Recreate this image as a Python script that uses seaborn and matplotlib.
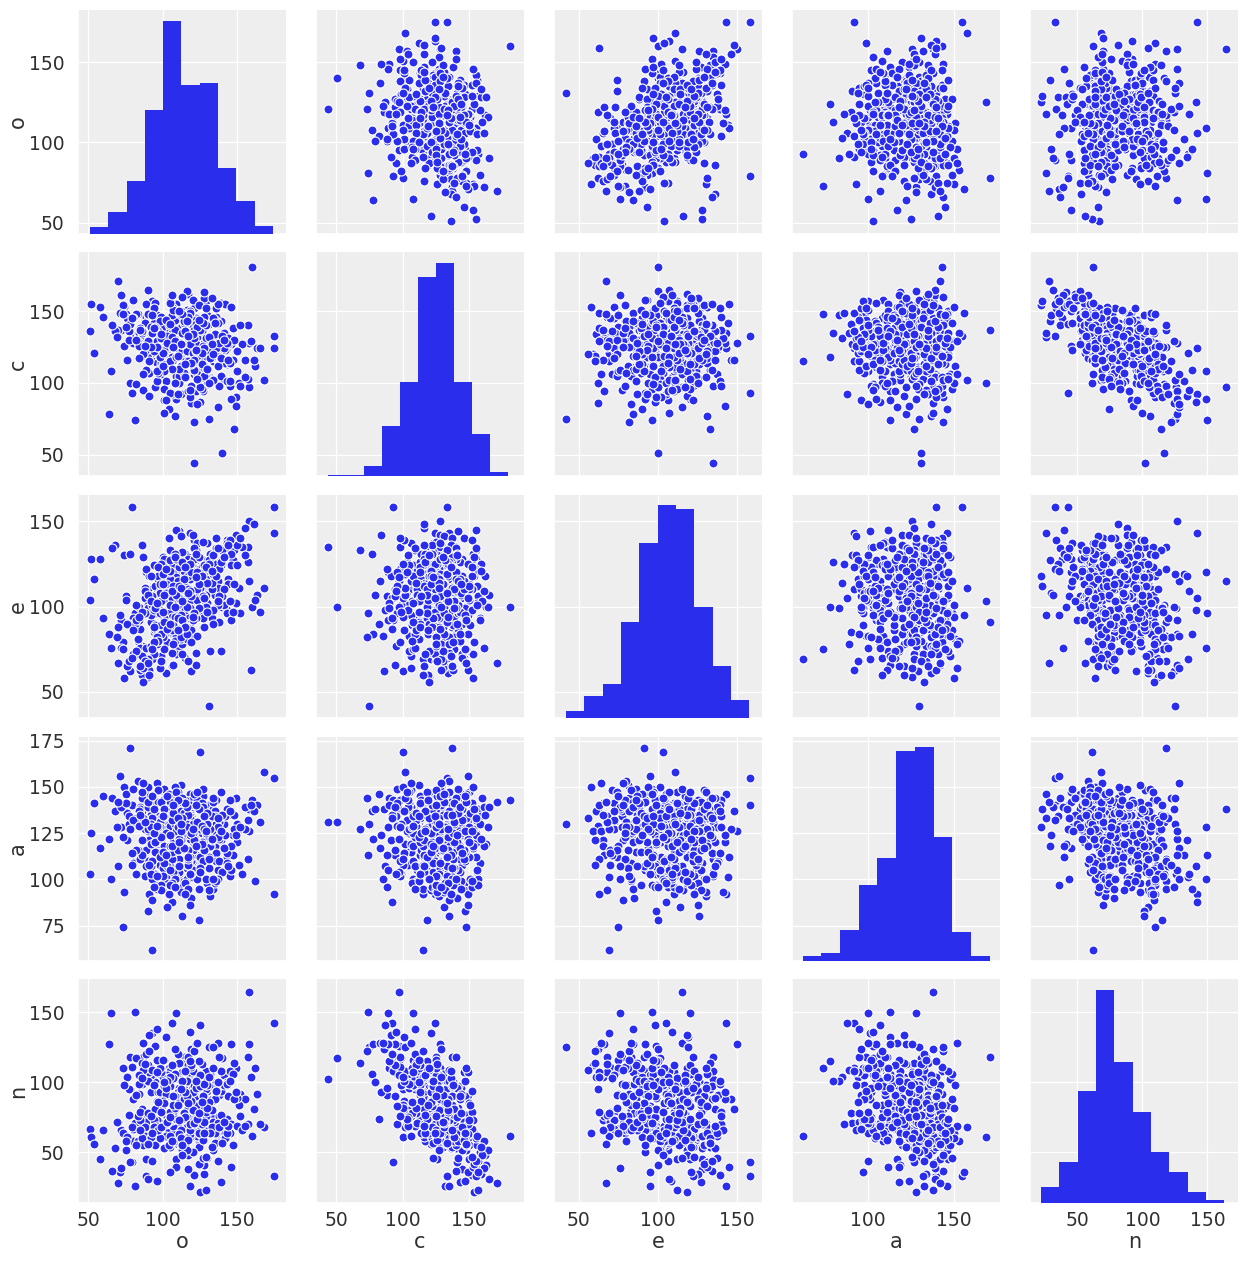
import numpy as np
import pandas as pd
import seaborn as sns
import matplotlib
matplotlib.use("Agg")
import matplotlib.pyplot as plt

# values
o = [175,175,51,52,54,58,60,121,140,160,131,79,78,93,
     125,158,125,129,81,118,139,96,64,65,81,109,158,157,
     112,98,131,104,120,87,143,109,126,72,117,101,136,93,
     108,124,90,115,139,103,111,78,129,96,147,118,106,83,
     133,100,114,122,89,141,107,74,127,110,95,152,119,104,
     116,92,137,105,125,84,112,130,99,146,108,76,121,113,
     102,128,110,88,135,118,94,149,106,123,80,114,132,97,
     120,107,142,91,115,129,101,70,111,134,86,124,103,117,
     95,138,109,126,82,113,144,104,119,98,131,75,108,122,
     127,111,90,136,105,116,155,85,121,100,140,112,93,130,
     106,118,79,128,97,109,133,114,88,145,103,123,110,73,
     135,99,117,107,125,92,113,150,83,120,104,137,96,115,
     110,131,86,122,101,143,108,77,118,94,128,112,139,105,
     123,89,114,134,98,106,119,148,81,126,102,111,71,130,
     91,116,140,103,121,109,87,132,96,113,153,107,124,84,
     118,100,129,110,76,136,105,122,93,115,141,99,127,111,
     104,125,85,112,146,97,120,108,133,90,117,68,106,128,
     119,94,138,102,113,126,82,110,144,100,123,116,88,134,
     107,130,95,121,74,115,101,137,89,111,127,105,151,98,
     122,113,92,129,106,80,118,142,103,124,96,109,135,86,
     100,117,163,128,90,112,105,132,66,120,147,94,114,126,
     83,111,125,99,139,108,116,72,130,103,121,168,92,119,
     137,106,77,113,123,97,145,110,88,127,101,118,134,95,
     104,120,112,86,131,157,99,115,124,69,108,141,93,117,
     129,102,162,78,119,110,135,91,122,107,75,150,114,98,
     116,85,127,105,148,94,121,112,136,80,109,123,100,155,
     73,133,103,118,90,126,165,108,96,143,114,84,120,111,
     98,124,161,106,87,129,113,70,138,101,117,92,132,159,
     110,126,98,117,135,104,122,89,113,142,108,128,94,119,
     115,102,131,120,84,138,111,97,125,106,146,118,90,129,
     121,107,134,93,116,100,127,112,143,87,123,105,137,99,
     114,130,96,124,109,149,86,118,101,133,113,91,126,140,
     103,117,128,95,122,136,110,82,119,127,105,145,92,115,
     130,99,113,125,88,106,139,121,102,116,134,97,111,128,
     94,123,108,137,115,79,126,101,120,144,90,112,131,105,
     118,85,129,110,141,96,124,107,133,100,117,152,93,122]
c = [133,124,136,155,121,153,146,44,51,181,75,93,137,115,
     100,97,154,157,132,135,143,147,78,108,74,89,128,140,
     128,104,141,119,132,95,124,150,113,137,126,88,146,121,
     135,117,108,129,156,123,142,100,131,114,138,127,92,148,
     120,133,111,145,126,102,136,153,118,129,97,140,124,115,
     143,125,83,130,112,138,121,147,106,127,134,116,152,122,
     101,128,139,119,144,110,131,90,136,125,158,113,127,141,
     118,149,123,107,133,128,96,137,142,115,126,103,131,145,
     129,112,155,122,99,135,127,140,86,130,117,148,124,109,
     134,143,120,127,93,151,116,130,106,138,125,112,147,123,
     111,136,128,159,121,105,132,126,144,98,129,119,137,154,
     126,114,139,131,87,147,122,108,135,128,117,142,101,133,
     150,120,129,94,140,113,127,136,110,124,163,131,105,118,
     132,146,109,125,137,116,141,68,128,121,134,100,149,127,
     91,130,123,143,115,133,126,104,138,119,127,152,111,135,
     124,139,102,128,145,117,130,122,157,107,135,126,113,140,
     137,116,128,150,89,132,121,143,103,129,125,136,118,110,
     127,142,113,134,124,97,148,120,131,139,106,128,122,145,
     115,129,138,73,126,141,112,133,155,123,118,136,100,130,
     144,121,127,106,135,128,150,114,125,137,109,131,142,119,
     113,134,124,128,147,92,130,120,140,126,116,153,122,136,
     128,105,139,125,117,144,131,161,123,111,137,102,134,127,
     119,147,130,123,85,136,114,129,142,125,108,133,120,156,
     140,111,127,135,122,103,146,128,118,132,77,124,138,115,
     131,125,112,141,98,134,120,149,127,116,139,122,107,143,
     122,138,126,115,130,152,109,135,124,145,128,119,133,104,
     148,118,133,127,165,113,124,137,129,101,142,126,121,110,
     125,140,116,132,120,108,135,171,128,123,94,139,117,129,
     150,96,118,162,134,82,141,109,127,155,100,146,122,113,
     104,144,132,158,117,98,149,125,137,110,153,90,129,140,
     116,151,102,135,164,121,94,147,128,106,139,157,112,131,
     143,99,125,154,118,84,136,149,108,127,160,115,96,133,
     128,146,105,139,122,152,92,130,114,142,156,101,125,136,
     110,134,148,97,126,161,117,131,88,143,120,107,150,124,
     138,103,129,155,113,145,121,79,134,116,148,127,100,141,
     95,137,152,119,130,108,144,125,159,112,133,98,147,123]
e = [158,143,104,128,116,128,93,135,100,100,42,158,91,69,
     103,115,118,112,95,143,127,108,84,76,96,120,150,135,
     85,109,117,124,102,77,98,112,119,92,128,106,140,69,
     95,120,110,131,112,85,144,62,100,116,127,91,105,74,
     93,129,83,108,120,101,114,58,123,76,99,96,116,110,
     106,78,115,133,94,100,119,102,71,124,112,65,139,98,
     119,106,75,111,108,88,124,102,65,127,93,112,130,100,
     121,84,135,103,70,107,96,88,117,125,77,101,114,128,
     112,91,145,128,101,78,116,99,62,109,122,106,83,133,
     113,126,59,122,92,103,146,87,95,118,106,81,100,137,
     109,99,70,125,116,83,119,94,105,135,112,102,128,79,
     120,105,129,66,98,91,110,124,80,142,114,101,86,117,
     103,115,136,66,128,96,122,90,111,85,100,141,74,108,
     116,70,120,98,108,125,85,133,90,110,61,105,95,127,
     118,88,125,79,103,72,129,121,96,84,135,110,108,92,
     122,82,107,115,90,134,97,73,106,118,111,125,88,102,
     140,97,76,113,92,118,123,80,126,101,68,136,107,88,
     104,87,126,116,72,100,92,130,113,94,137,81,109,118,
     104,117,89,82,130,99,113,109,122,86,93,127,111,64,
     98,121,95,115,73,86,110,131,104,122,84,117,107,60,
     90,128,107,119,99,87,116,74,134,109,97,72,121,105,
     81,123,102,89,124,107,95,76,114,110,127,111,118,86,
     111,94,68,132,83,123,103,115,96,138,75,108,90,102,
     120,107,88,97,118,126,68,113,100,82,131,110,101,124,
     100,113,104,131,79,127,118,63,93,112,104,136,89,97,
     95,63,117,106,113,98,134,82,125,72,128,104,119,130,
     75,110,91,116,107,123,97,129,78,139,101,94,121,87,
     113,99,148,105,56,118,126,67,106,93,110,103,131,63,
     104,112,96,118,125,90,130,76,101,133,94,115,88,120,
     98,108,127,92,72,122,105,83,111,86,131,99,69,116,
     128,89,119,78,100,113,106,95,137,64,110,121,103,84,
     116,97,82,129,107,142,71,125,91,114,103,60,120,133,
     87,110,124,99,131,118,93,74,106,115,101,139,77,123,
     114,103,92,117,68,109,126,96,122,84,130,80,112,105,
     79,120,100,134,88,70,118,107,94,136,67,111,125,90,
     109,65,123,86,129,102,113,78,121,97,108,140,75,117]
a = [155,92,103,125,141,117,145,131,131,143,130,140,171,62,
     169,138,128,138,133,146,118,124,122,100,113,128,126,111,
     131,108,140,125,106,134,112,147,113,128,137,96,143,101,
     126,139,110,133,104,145,101,129,136,116,124,141,88,112,
     119,135,99,108,142,130,123,150,114,138,103,127,134,92,
     137,107,117,143,129,111,132,98,148,105,135,121,140,128,
     113,130,138,102,99,136,127,144,118,131,109,140,91,134,
     142,120,104,134,116,127,149,107,133,95,137,126,85,139,
     125,131,112,141,103,121,135,97,138,129,118,146,109,124,
     136,104,126,130,143,100,127,139,115,133,122,151,110,128,
     129,140,108,134,94,125,137,117,146,102,131,112,138,123,
     118,133,128,142,107,135,96,130,153,120,139,105,115,136,
     132,106,144,113,127,138,101,130,122,140,119,93,147,125,
     140,116,129,135,98,143,90,127,131,109,137,111,156,128,
     121,137,104,111,139,130,148,118,97,126,103,141,129,135,
     127,143,119,107,136,114,125,140,100,98,134,122,145,130,
     134,112,138,128,105,142,116,131,126,150,95,137,111,129,
     110,130,135,101,141,122,133,147,117,106,139,106,127,138,
     139,128,115,144,93,124,136,100,132,127,120,142,108,126,
     124,136,103,119,127,149,112,134,98,140,95,125,137,121,
     133,109,140,126,83,135,129,118,144,101,113,127,138,125,
     116,141,127,97,121,130,108,139,124,136,105,158,119,132,
     128,115,134,138,100,102,143,123,131,110,118,129,142,120,
     135,105,121,147,112,132,94,140,78,128,137,117,133,108,
     122,138,99,127,143,116,134,92,129,104,141,120,136,131,
     130,111,145,118,135,96,123,137,110,132,126,143,102,139,
     74,134,107,124,139,120,131,100,152,114,136,129,125,107,
     128,119,137,98,133,125,80,142,122,109,116,130,127,140,
     128,141,112,135,98,146,120,107,133,124,150,116,138,103,
     143,125,94,130,137,110,122,148,106,132,118,140,127,100,
     121,136,144,89,128,115,139,126,109,152,131,97,123,142,
     117,130,102,138,147,124,113,86,134,121,144,108,129,135,
     145,111,127,120,140,99,133,116,125,149,105,137,128,92,
     136,123,142,104,131,118,126,146,113,139,100,128,120,134,
     125,147,96,133,141,114,119,138,127,107,142,130,111,124,
     103,135,126,143,117,129,95,140,122,134,112,128,145,118]
n = [33,142,67,61,56,45,66,102,117,62,125,43,118,62,
     61,164,22,23,26,26,29,30,127,149,150,149,127,118,
     98,84,78,62,101,118,74,45,105,66,88,91,70,135,
     92,58,109,84,60,70,88,95,66,100,55,96,142,77,
     76,82,118,61,45,105,88,64,95,71,126,92,63,110,
     58,110,128,54,103,68,93,66,102,70,85,104,34,72,
     132,66,92,75,96,105,59,110,73,88,58,95,71,62,
     64,91,68,102,79,94,106,72,82,72,99,80,104,38,
     94,76,40,87,117,71,90,69,124,63,99,52,80,95,
     86,60,112,63,108,64,88,68,83,84,69,98,65,46,
     72,89,111,35,104,84,87,74,55,108,63,102,83,64,
     94,71,82,76,141,60,107,69,58,88,65,97,87,56,
     56,103,81,127,53,100,70,95,74,99,41,66,108,71,
     85,72,69,96,98,61,78,114,71,101,104,84,36,90,
     134,68,97,75,98,73,55,106,73,107,66,79,72,92,
     62,92,108,71,61,88,97,76,44,110,60,92,73,63,
     79,105,73,55,127,84,67,66,100,60,118,53,104,78,
     101,66,91,70,74,113,55,84,67,99,62,110,68,52,
     69,93,100,122,98,62,99,71,33,102,76,79,84,106,
     90,62,105,76,73,88,61,64,105,54,138,90,57,114,
     104,62,92,63,101,114,90,82,37,74,106,73,60,92,
     76,96,63,110,94,58,75,39,94,71,84,68,93,72,
     97,90,77,57,128,93,64,93,62,91,116,63,98,55,
     55,108,101,60,97,70,107,88,115,72,106,98,62,101,
     95,62,110,43,111,90,64,107,71,103,58,89,78,60,
     101,79,59,104,88,67,97,66,94,67,88,66,96,69,
     110,68,101,66,31,98,70,90,69,99,58,99,93,114,
     93,64,81,74,109,98,101,28,68,97,112,61,64,104,
     85,70,110,48,88,74,96,120,52,60,82,72,68,112,
     75,92,86,50,105,118,63,66,97,112,40,115,78,79,
     70,84,125,109,52,87,90,60,64,128,77,36,100,68,
     88,98,116,42,74,93,103,70,85,80,48,122,83,57,
     72,59,99,81,83,94,120,91,87,46,62,101,76,108,
     82,79,55,105,113,58,77,71,96,90,110,86,73,64,
     98,74,124,44,93,68,86,100,80,69,56,95,104,75,
     136,66,47,84,72,107,78,90,54,116,85,76,64,101]

# histogram bar heights and bin ranges
o_counts = [4, 13, 32, 75, 129, 90, 91, 40, 20, 5]
c_counts = [1, 1, 7, 35, 66, 140, 150, 66, 30, 3]
e_counts = [4, 12, 18, 51, 93, 113, 111, 59, 28, 10]
a_counts = [3, 5, 19, 47, 64, 131, 133, 77, 18, 3]
n_counts = [11, 29, 79, 150, 99, 64, 36, 22, 8, 2]
hist_counts = {"o": o_counts, "c": c_counts, "e": e_counts, "a": a_counts, "n": n_counts}
hist_range = {"o": (51, 174), "c": (44, 179), "e": (42, 157.5), "a": (62, 171), "n": (22, 163)}

names = ["o", "c", "e", "a", "n"]
limits = {"o": (43, 182.5), "c": (35, 191), "e": (34.5, 165.5), "a": (56, 177), "n": (14, 173.5)}
ticks = [50, 100, 150]
a_xticks = [100, 150]
a_yticks = [75, 100, 125, 150, 175]

blue = "#2a2eec"

sns.set_theme(style="darkgrid", rc={
    "axes.facecolor": "#eeeeee",
    "grid.color": "white",
    "grid.linewidth": 0.9,
    "xtick.labelsize": 13.5,
    "ytick.labelsize": 13.5,
    "xtick.major.pad": 0,
    "axes.labelsize": 15,
    "axes.labelpad": 1,
    "text.color": "#303030",
    "axes.labelcolor": "#303030",
    "xtick.color": "#303030",
    "ytick.color": "#303030",
})

df = pd.DataFrame({"o": o, "c": c, "e": e, "a": a, "n": n})


def draw_hist(x, **kwargs):
    counts = hist_counts[x.name]
    lo, hi = hist_range[x.name]
    edges = np.linspace(lo, hi, len(counts) + 1)
    centers = (edges[:-1] + edges[1:]) / 2
    sns.histplot(x=centers, weights=counts, bins=list(edges), color=blue, alpha=1,
                 linewidth=0, ax=plt.gca())


g = sns.PairGrid(df, vars=names, height=2.5, diag_sharey=False)
g.map_offdiag(sns.scatterplot, color=blue, s=42, edgecolor="white", linewidth=0.8)
g.map_diag(draw_hist)

for i, name in enumerate(names):
    g.axes[i, 0].set_ylim(limits[name])
    g.axes[-1, i].set_xlim(limits[name])
    g.axes[i, 0].set_yticks(a_yticks if name == "a" else ticks)
    g.axes[-1, i].set_xticks(a_xticks if name == "a" else ticks)

g.figure.set_size_inches(12.48, 12.62)
g.figure.subplots_adjust(left=78 / 1248, right=1238 / 1248, top=1 - 10 / 1262,
                         bottom=1 - 1203 / 1262, wspace=0.147, hspace=0.082)
g.figure.savefig("out.png", dpi=100)
